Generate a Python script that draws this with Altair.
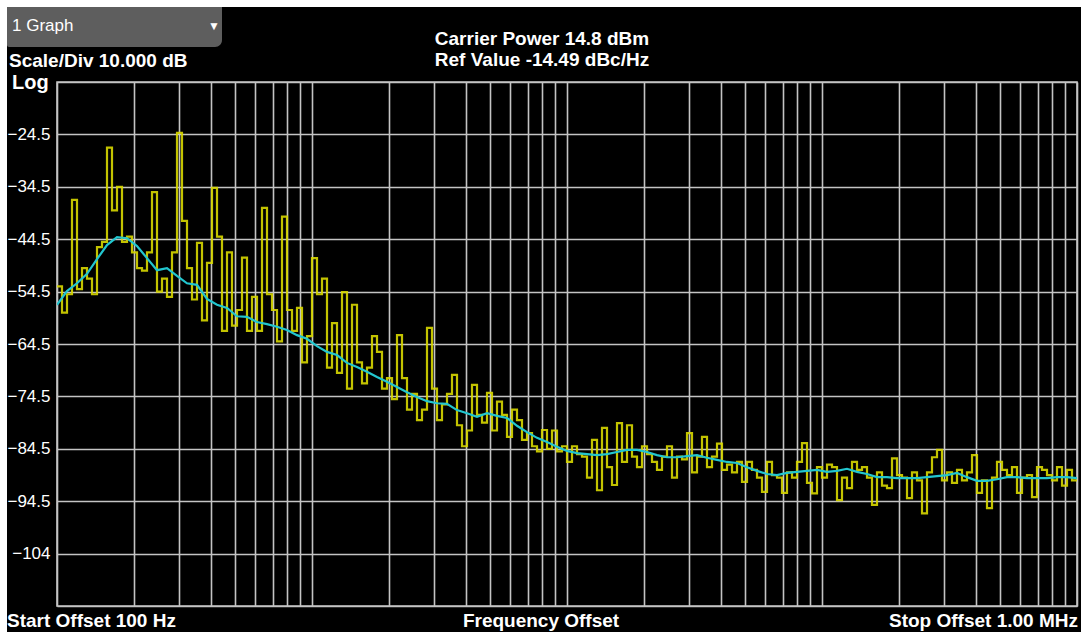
import numpy as np
import pandas as pd
import altair as alt

# Phase-noise measurement: offset sweep, reference level and scale
START_HZ = 100
STOP_HZ = 1_000_000
CARRIER_DBM = 14.8
REF_LEVEL = -14.49
SCALE_DIV = 10.0
DIVISIONS = 10

# Raw trace (dBc/Hz), one value per log-spaced sweep bin
trace_db = [
    -53.5, -58.5, -55, -37, -54, -50, -52, -55, -46, -45,
    -27, -39, -34.5, -45, -44, -47, -50, -50.5, -47, -35.5,
    -54.5, -52, -55.5, -47, -24.2, -41, -50, -56, -45.2, -60,
    -49, -34.7, -44, -62, -47, -61, -58, -48, -62, -55.5,
    -62, -38.5, -55, -58, -64, -40.2, -58, -62, -57.6, -68,
    -63, -48.1, -55, -52, -69, -60.5, -70, -54.6, -73, -57,
    -68, -72, -69, -63, -66, -73, -71, -75, -62.8, -71,
    -77, -74, -79, -77, -61.4, -73, -79, -76, -74, -70.4,
    -80, -84, -81, -72.3, -78, -79.5, -73.8, -81, -75.5, -78,
    -82.2, -77, -79, -82.8, -81.5, -84, -85, -80.9, -84.5, -81,
    -85, -84, -87, -84, -85.5, -86, -90, -82.8, -92.4, -80.5,
    -88, -91.4, -79.6, -87, -80, -86, -88, -84, -85.5, -87,
    -88.5, -86, -84, -90, -86, -86.5, -81.5, -89, -86, -82.2,
    -88, -86, -83.5, -88.5, -87.5, -89, -87, -90.8, -87, -88.5,
    -90, -92.7, -87, -89.5, -90, -92.9, -89, -90, -87, -83.4,
    -91, -93, -88, -90, -87.5, -88, -94.3, -90, -92, -87,
    -88.5, -88, -90, -95.2, -89, -91.5, -92, -86.3, -89.5, -90,
    -93.9, -89, -90.5, -96.8, -89, -86.1, -84.7, -90.5, -89, -91,
    -88.5, -90.5, -89, -85.7, -92.9, -90.5, -95.8, -90, -87, -88.5,
    -89.5, -88, -92.9, -90, -89.5, -93.7, -88, -88.5, -89.5, -90.5,
    -88, -91.5, -88.5, -90.5,
]

# Smoothed trace (dBc/Hz)
smooth_db = [
    -57.0, -54.4, -52.9, -51.1, -48.3, -45.6, -44.1, -44.3, -45.8, -48.1,
    -50.4, -50.0, -51.5, -52.9, -53.2, -55.9, -57.0, -57.6, -59.2, -59.3,
    -60.3, -60.7, -61.2, -61.8, -62.8, -63.5, -64.9, -66.0, -66.6, -68.1,
    -68.9, -69.8, -70.8, -71.7, -72.7, -73.7, -74.6, -75.4, -75.8, -75.9,
    -77.1, -77.7, -78.4, -77.7, -78.2, -78.6, -80.1, -81.3, -82.4, -83.2,
    -84.1, -84.9, -85.3, -85.5, -85.7, -85.5, -85.1, -84.7, -84.7, -85.1,
    -85.7, -86.1, -86.1, -85.9, -85.7, -86.2, -86.6, -87.0, -87.2, -88.0,
    -88.7, -89.3, -89.5, -89.1, -88.9, -88.7, -88.5, -88.9, -88.7, -88.3,
    -88.9, -89.3, -89.9, -89.9, -90.1, -90.1, -90.1, -89.9, -89.7, -89.5,
    -89.1, -89.9, -90.6, -90.6, -90.3, -89.9, -89.9, -90.1, -90.1, -90.1,
    -89.9, -89.9, -90.1,
]

# Sweep bins are evenly spaced in log frequency
bin_edges = np.geomspace(START_HZ, STOP_HZ, len(trace_db) + 1)
trace = pd.DataFrame({"freq": bin_edges, "db": trace_db + [trace_db[-1]]})
smooth = pd.DataFrame({
    "freq": np.geomspace(START_HZ, STOP_HZ, len(smooth_db)),
    "db": smooth_db,
})

W, H = 1020, 524
GRID = "#c4c4c4"
FONT = "Liberation Sans"
bottom_db = REF_LEVEL - SCALE_DIV * DIVISIONS
y_lines = [round(REF_LEVEL - SCALE_DIV * k, 2) for k in range(DIVISIONS + 1)]
x_lines = [m * 10 ** e for e in range(2, 6) for m in range(1, 10)] + [STOP_HZ]

x_enc = alt.X(
    "freq:Q",
    scale=alt.Scale(type="log", domain=[START_HZ, STOP_HZ], nice=False),
    axis=alt.Axis(values=x_lines, labels=False, ticks=False, domain=False,
                  title=None, grid=True, gridColor=GRID, gridWidth=1.6,
                  gridOpacity=1),
)
y_enc = alt.Y(
    "db:Q",
    scale=alt.Scale(domain=[bottom_db, REF_LEVEL], nice=False, zero=False),
    axis=alt.Axis(values=y_lines, ticks=False, domain=False, title=None,
                  grid=True, gridColor=GRID, gridWidth=1.6, gridOpacity=1,
                  labelExpr=f"datum.value > {REF_LEVEL - 1} || datum.value < {bottom_db + 1} ? '' : format(datum.value, '.3r')",
                  labelColor="white", labelFont=FONT, labelFontSize=17,
                  labelPadding=7),
)

raw_line = alt.Chart(trace).mark_line(
    interpolate="step-after", color="#d8d800", strokeWidth=2.2, opacity=0.9,
    clip=True,
).encode(x=x_enc, y=y_enc)

smooth_line = alt.Chart(smooth).mark_line(
    color="#22c6cf", strokeWidth=2.2, clip=True,
).encode(x="freq:Q", y="db:Q")

one = pd.DataFrame({"k": [0]})

# Frame strips and the trace selector box above the plot
strips = [
    alt.Chart(one).mark_rect(color="white").encode(
        x=alt.value(-57), x2=alt.value(W + 4), y=alt.value(-82), y2=alt.value(-75)),
    alt.Chart(one).mark_rect(color="white").encode(
        x=alt.value(-57), x2=alt.value(-50), y=alt.value(-82), y2=alt.value(H + 28)),
    alt.Chart(one).mark_rect(color="white").encode(
        x=alt.value(-57), x2=alt.value(W + 4), y=alt.value(H + 26), y2=alt.value(H + 28)),
]
selector = alt.Chart(one).mark_rect(
    color="#5e5e5e", cornerRadiusBottomRight=7, cornerRadiusBottomLeft=2
).encode(x=alt.value(-50), x2=alt.value(165), y=alt.value(-75), y2=alt.value(-35))


def label(text, x, y, size=19, bold=True, align="left"):
    return alt.Chart(one).mark_text(
        text=text, color="white", font=FONT, fontSize=size,
        fontWeight="bold" if bold else "normal", align=align,
        baseline="alphabetic",
    ).encode(x=alt.value(x), y=alt.value(y))


texts = [
    label("1 Graph", -45, -51, size=17, bold=False),
    label("▼", 157, -52, size=12, bold=False, align="center"),
    label(f"Scale/Div {SCALE_DIV:.3f} dB", -48, -15),
    label("Log", -45, 7, size=20),
    label(f"Carrier Power {CARRIER_DBM} dBm", 485, -37, align="center"),
    label(f"Ref Value {REF_LEVEL} dBc/Hz", 485, -16, align="center"),
    label(f"Start Offset {START_HZ} Hz", -50, 545),
    label("Frequency Offset", 484, 545, align="center"),
    label(f"Stop Offset {STOP_HZ / 1e6:.2f} MHz", W + 1, 545, align="right"),
]

chart = alt.layer(
    raw_line, smooth_line, *strips, selector, *texts
).properties(
    width=W, height=H,
    background="black",
    padding={"left": 57, "top": 82, "right": 4, "bottom": 28},
    autosize=alt.AutoSizeParams(type="none"),
).configure_view(
    stroke=GRID, strokeWidth=1.6, fill="black",
)

chart.save("out.html", embed_options={"renderer": "svg", "actions": False})
